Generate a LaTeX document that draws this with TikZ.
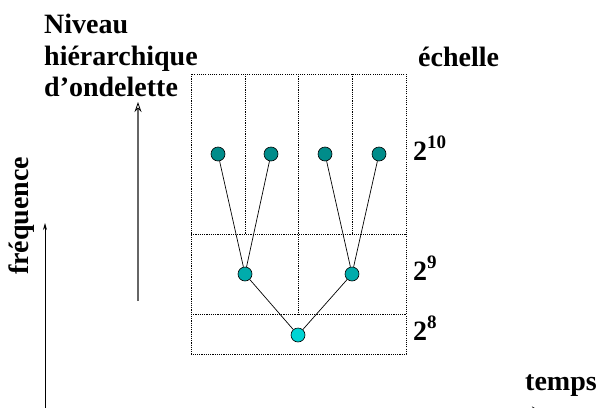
\documentclass[tikz,border=0pt]{standalone}
\usepackage{fontspec}
\setmainfont{Liberation Serif}
\usetikzlibrary{arrows.meta}
\definecolor{topc}{RGB}{0,140,138}
\definecolor{midc}{RGB}{0,172,172}
\definecolor{botc}{RGB}{0,212,212}
\tikzset{
  lbl/.style={font=\fontsize{28}{30}\bfseries\selectfont, inner sep=0pt, anchor=base west},
  grid/.style={line width=0.7pt, dash pattern=on 1.1pt off 1.1pt},
  dot/.style={circle, draw=black, line width=0.6pt, minimum size=14pt, inner sep=0pt},
  edge/.style={line width=0.7pt},
}
\begin{document}
\begin{tikzpicture}[x=1pt,y=-1pt]
\clip (0,0) rectangle (599,407);
\useasboundingbox (0,0) rectangle (599,407);
% grid
\draw[grid] (191,74) rectangle (406,354);
\draw[grid] (191,234) -- (406,234);
\draw[grid] (191,314) -- (406,314);
\draw[grid] (245,74) -- (245,234);
\draw[grid] (298,74) -- (298,314);
\draw[grid] (352,74) -- (352,234);
% nodes
\node[dot, fill=topc] (t1) at (218,154) {};
\node[dot, fill=topc] (t2) at (271,154) {};
\node[dot, fill=topc] (t3) at (325,154) {};
\node[dot, fill=topc] (t4) at (379,154) {};
\node[dot, fill=midc] (m1) at (245,274) {};
\node[dot, fill=midc] (m2) at (352,274) {};
\node[dot, fill=botc] (b) at (298,335) {};
\draw[edge] (t1) -- (m1);
\draw[edge] (t2) -- (m1);
\draw[edge] (t3) -- (m2);
\draw[edge] (t4) -- (m2);
\draw[edge] (m1) -- (b);
\draw[edge] (m2) -- (b);
% labels
\node[lbl] (n1) at (44,33) {Niveau};
\node[lbl] (n2) at (44,65) {hiérarchique};
\node[lbl] (n3) at (44,96) {d’ondelette};
\node[lbl] (ech) at (418,66) {échelle};
\node[lbl] (s10) at (413,160) {2\raisebox{12pt}{\fontsize{19}{20}\selectfont 10}};
\node[lbl] (s9) at (413,280) {2\raisebox{12pt}{\fontsize{19}{20}\selectfont 9}};
\node[lbl] (s8) at (413,340) {2\raisebox{12pt}{\fontsize{19}{20}\selectfont 8}};
\node[lbl] (tps) at (525,390) {temps};
\node[lbl, rotate=90] (frq) at (28,275) {fréquence};
% arrows
\coordinate (fa0) at (45,410);
\coordinate (fa1) at (45,223);
\draw[line width=0.8pt, -{Stealth[length=7pt,width=4pt]}] (fa0) -- (fa1);
\coordinate (ha0) at (138,301);
\coordinate (ha1) at (138,102);
\draw[line width=1.2pt, draw=black!60, -{Stealth[open,length=10pt,width=7pt,line width=0.8pt,color=black]}] (ha0) -- (ha1);
\coordinate (ta0) at (440,412);
\coordinate (ta1) at (542,412);
\draw[line width=1pt, -{Stealth[open,length=10pt,width=11pt,line width=0.8pt]}] (ta0) -- (ta1);
\end{tikzpicture}
\end{document}
